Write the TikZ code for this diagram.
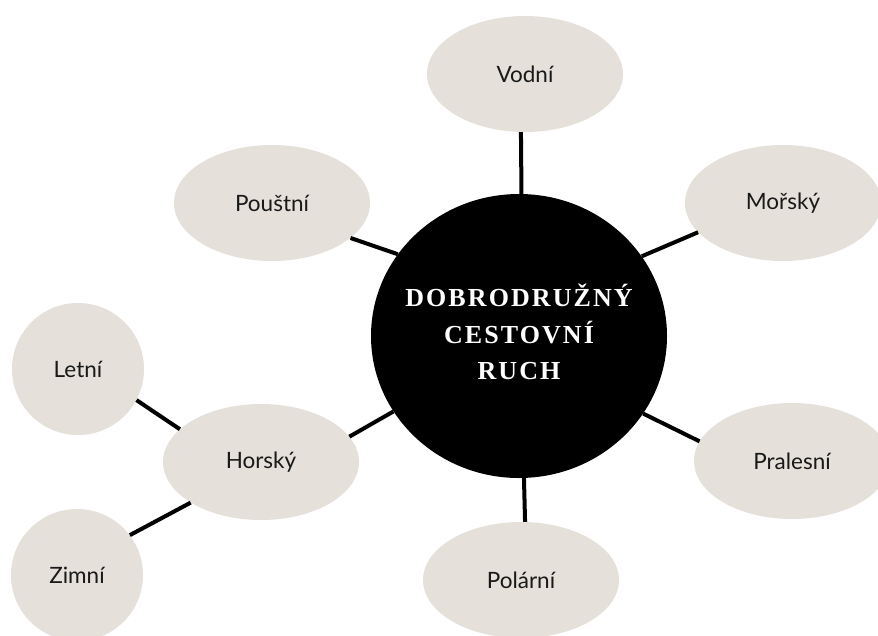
\documentclass[tikz,border=0pt]{standalone}
\usepackage{fontspec}
\setmainfont{Lato}
\newfontfamily\titlefont[LetterSpace=8]{Liberation Serif}
\usetikzlibrary{shapes.geometric}
\definecolor{bubble}{RGB}{229,224,217}
\definecolor{labeltext}{RGB}{25,25,25}
\tikzset{
  bubble/.style={ellipse, fill=bubble, draw=none, inner sep=0pt,
    minimum width=196pt, minimum height=116pt,
    font=\fontsize{22.5}{26}\selectfont, text=labeltext},
  roundbubble/.style={circle, fill=bubble, draw=none, inner sep=0pt,
    minimum size=132pt, font=\fontsize{22.5}{26}\selectfont, text=labeltext},
  hub/.style={ellipse, fill=black, draw=none, inner sep=0pt,
    minimum width=296pt, minimum height=284pt, text=white,
    font=\titlefont\bfseries\fontsize{26}{36.5}\selectfont},
  link/.style={draw=black, line width=4pt}
}
\begin{document}
\begin{tikzpicture}[x=1pt, y=-1pt]
\useasboundingbox[fill=white] (0,0) rectangle (878,635);
\node[hub] (c) at (519,336) {\makebox[0pt]{\raisebox{-3pt}{\begin{tabular}{@{}c@{}}DOBRODRUŽNÝ\\CESTOVNÍ\\RUCH\end{tabular}}}};
\node[bubble] (vodni) at (525,74) {Vodní};
\node[bubble] (morsky) at (783,203) {Mořský};
\node[bubble] (poustni) at (272,203) {Pouštní};
\node[bubble] (horsky) at (261,462) {Horský};
\node[bubble] (pralesni) at (792,461) {Pralesní};
\node[bubble] (polarni) at (521,580) {Polární};
\node[roundbubble] (letni) at (78,369) {Letní};
\node[roundbubble] (zimni) at (77,575) {Zimní};
\draw[link] (c.89.3) -- (vodni.266);
\draw[link] (c.33) -- (morsky.199);
\draw[link] (c.146.3) -- (poustni.336.4);
\draw[link] (c.211.6) -- (horsky.16);
\draw[link] (c.328.3) -- (pralesni.168);
\draw[link] (c.272.4) -- (polarni.86);
\draw[link] (letni.332.3) -- (horsky.158.1);
\draw[link] (horsky.210.6) -- (zimni.37.5);
\end{tikzpicture}
\end{document}
